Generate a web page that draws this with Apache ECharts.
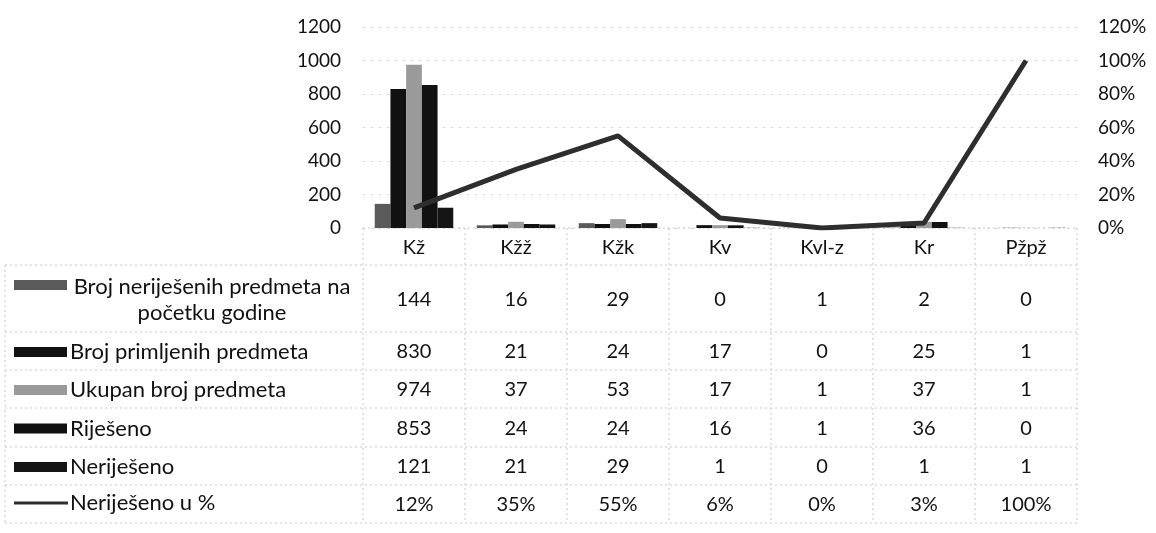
<!DOCTYPE html>
<html>
<head>
<meta charset="utf-8">
<script src="https://cdn.jsdelivr.net/npm/echarts@6/dist/echarts.min.js"></script>
<style>
html,body{margin:0;padding:0;background:#fff;}
#c{width:1156px;height:533px;}
</style>
</head>
<body>
<div id="c"></div>
<script>
const categories = ['Kž', 'Kžž', 'Kžk', 'Kv', 'Kvl-z', 'Kr', 'Pžpž'];
const seriesNames = [
  'Broj neriješenih predmeta na\npočetku godine',
  'Broj primljenih predmeta',
  'Ukupan broj predmeta',
  'Riješeno',
  'Neriješeno',
  'Neriješeno u %'
];
const nerijeseniPocetak = [144, 16, 29, 0, 1, 2, 0];
const primljeni = [830, 21, 24, 17, 0, 25, 1];
const ukupno = [974, 37, 53, 17, 1, 37, 1];
const rijeseno = [853, 24, 24, 16, 1, 36, 0];
const nerijeseno = [121, 21, 29, 1, 0, 1, 1];
const nerijesenoPct = [12, 35, 55, 6, 0, 3, 100];
const leftTicks = [0, 200, 400, 600, 800, 1000, 1200];
const rightTicks = ['0%', '20%', '40%', '60%', '80%', '100%', '120%'];

const barColors = ['#5a5a5a', '#111111', '#9a9a9a', '#111111', '#151515'];
const lineColor = '#2e2e2e';
const FONT = 'Lato';
const barData = [nerijeseniPocetak, primljeni, ukupno, rijeseno, nerijeseno];

const chart = echarts.init(document.getElementById('c'));

const series = barData.map((d, i) => ({
  name: seriesNames[i],
  type: 'bar',
  data: d,
  barGap: '0%',
  barCategoryGap: '23%',
  itemStyle: { color: barColors[i] },
  animation: false
}));
series.push({
  name: seriesNames[5],
  type: 'line',
  yAxisIndex: 1,
  data: nerijesenoPct,
  symbol: 'none',
  lineStyle: { color: lineColor, width: 5 },
  animation: false
});

const option = {
  animation: false,
  grid: { left: 363, right: 79, top: 27, bottom: 305 },
  xAxis: {
    type: 'category',
    data: categories,
    axisLine: { show: false },
    axisTick: { show: false },
    axisLabel: { show: false }
  },
  yAxis: [
    {
      type: 'value', min: 0, max: 1200, interval: 200,
      axisLine: { show: false }, axisTick: { show: false },
      axisLabel: { fontFamily: FONT, fontSize: 19, color: '#111', margin: 22,
        formatter: v => String(leftTicks[leftTicks.indexOf(v)]) },
      splitLine: { lineStyle: { color: '#d8d8d8', type: [2, 6], width: 1 } }
    },
    {
      type: 'value', min: 0, max: 120, interval: 20,
      axisLine: { show: false }, axisTick: { show: false },
      axisLabel: { fontFamily: FONT, fontSize: 19, color: '#111', margin: 21,
        formatter: v => rightTicks[Math.round(v / 20)] },
      splitLine: { show: false }
    }
  ],
  series: series
};
chart.setOption(option);

// ---- data table drawn below the plot ----
const rowBounds = [228, 265, 332, 370, 408, 447, 485, 523];
const c0 = chart.convertToPixel({ xAxisIndex: 0 }, 0);
const c1 = chart.convertToPixel({ xAxisIndex: 0 }, 1);
const colW = c1 - c0;
const tableLeft = c0 - colW / 2;
const tableRight = tableLeft + colW * categories.length;
const g = [];
const border = { stroke: '#c8c8c8', lineWidth: 1, lineDash: [2, 3] };
const txt = (x, y, t, align, size) => ({
  type: 'text', x: x, y: y,
  style: { text: t, fontFamily: FONT, fontSize: size || 20, fill: '#111',
    align: align || 'center', verticalAlign: 'middle', lineHeight: 26 },
  silent: true
});
// horizontal lines
g.push({ type: 'line', shape: { x1: tableLeft, y1: rowBounds[0], x2: tableRight, y2: rowBounds[0] }, style: border });
for (let r = 1; r < rowBounds.length; r++) {
  g.push({ type: 'line', shape: { x1: 5, y1: rowBounds[r], x2: tableRight, y2: rowBounds[r] }, style: border });
}
// vertical lines
for (let i = 0; i <= categories.length; i++) {
  const x = tableLeft + colW * i;
  g.push({ type: 'line', shape: { x1: x, y1: rowBounds[0], x2: x, y2: rowBounds[rowBounds.length - 1] }, style: border });
}
g.push({ type: 'line', shape: { x1: 5, y1: rowBounds[1], x2: 5, y2: rowBounds[rowBounds.length - 1] }, style: border });
// header
categories.forEach((c, i) => {
  g.push(txt(chart.convertToPixel({ xAxisIndex: 0 }, i), (rowBounds[0] + rowBounds[1]) / 2 + 1, c));
});
// rows
const rowValues = barData.concat([nerijesenoPct.map(v => v + '%')]);
rowValues.forEach((vals, r) => {
  const yMid = (rowBounds[r + 1] + rowBounds[r + 2]) / 2 + 1;
  vals.forEach((v, i) => {
    g.push(txt(chart.convertToPixel({ xAxisIndex: 0 }, i), yMid, String(v)));
  });
  // legend key
  if (r < 5) {
    const keyY = r === 0 ? rowBounds[r + 1] + 15 : yMid - 5;
    g.push({ type: 'rect', shape: { x: 14, y: keyY, width: 53, height: 10 },
      style: { fill: barColors[r] }, silent: true });
    if (r === 0) {
      g.push(txt(212, yMid, seriesNames[r], 'center', 22));
    } else {
      g.push(txt(70, yMid, seriesNames[r], 'left', 22));
    }
  } else {
    g.push({ type: 'line', shape: { x1: 14, y1: yMid - 2, x2: 68, y2: yMid - 2 },
      style: { stroke: lineColor, lineWidth: 3 }, silent: true });
    g.push(txt(70, yMid - 2, seriesNames[r], 'left', 22));
  }
});
chart.setOption({ graphic: g });
</script>
</body>
</html>
